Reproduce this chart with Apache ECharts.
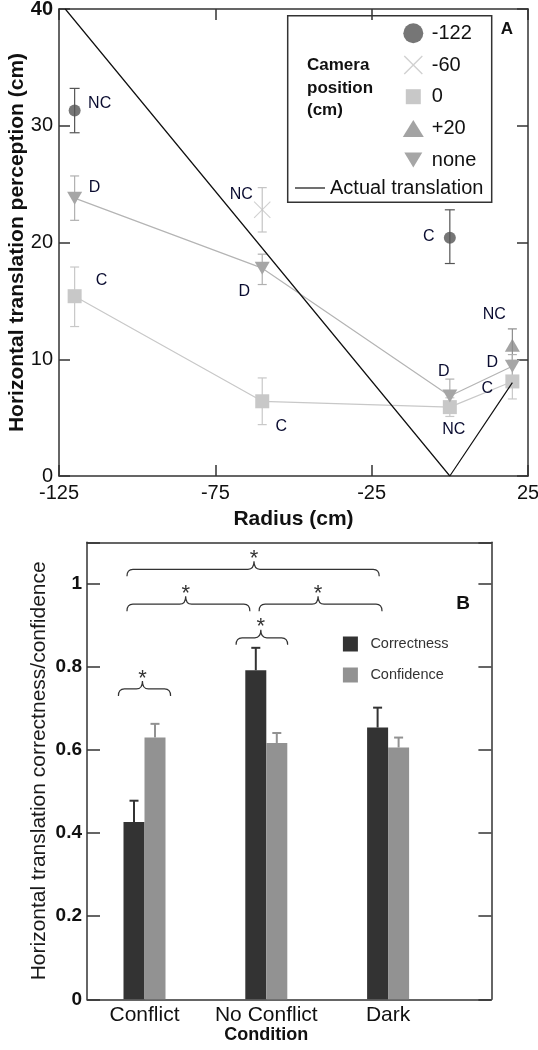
<!DOCTYPE html>
<html><head><meta charset="utf-8">
<script src="https://cdn.jsdelivr.net/npm/echarts@6/dist/echarts.min.js"></script>
<style>html,body{margin:0;padding:0;background:#fff}#c{width:538px;height:1050px}</style>
</head><body><div id="c"></div>
<script>
// ---------- Panel A data ----------
const radiusTicks = [-125, -75, -25, 25];
const cam122X = [-120, 0];
const cam122Y = [31.3, 20.4];
const cam122Lo = [29.4, 18.2];
const cam122Hi = [33.2, 22.8];
const cam122Tag = ['NC', 'C'];

const cam60X = [-60];
const cam60Y = [22.8];
const cam60Lo = [20.9];
const cam60Hi = [24.7];
const cam60Tag = ['NC'];

const cam0X = [-120, -60, 0, 20];
const cam0Y = [15.4, 6.4, 5.9, 8.1];
const cam0Lo = [12.8, 4.4, 5.1, 6.6];
const cam0Hi = [17.9, 8.4, 6.7, 9.6];
const cam0Tag = ['C', 'C', 'NC', 'C'];

const camP20X = [20];
const camP20Y = [11.2];
const camP20Lo = [9.9];
const camP20Hi = [12.6];
const camP20Tag = ['NC'];

const noneX = [-120, -60, 0, 20];
const noneY = [23.8, 17.8, 6.85, 9.4];
const noneLo = [21.9, 16.4, 5.4, 8.4];
const noneHi = [25.7, 19.0, 8.3, 10.4];
const noneTag = ['D', 'D', 'D', 'D'];

const actualX = [-123, 0, 20];
const actualY = [40, 0, 8];

// ---------- Panel B data ----------
const conditions = ['Conflict', 'No Conflict', 'Dark'];
const correctness = [0.427, 0.792, 0.654];
const correctnessSE = [0.051, 0.054, 0.048];
const confidence = [0.630, 0.617, 0.606];
const confidenceSE = [0.033, 0.024, 0.024];
// significance braces (category units relative to first category, y level)
const braceFrom = [-0.144, -0.144, 0.941, 0.752, -0.214];
const braceTo = [1.927, 0.865, 1.950, 1.175, 0.214];
const braceMid = [0.899, 0.338, 1.425, 0.955, -0.017];
const braceLevel = [1.035, 0.951, 0.951, 0.870, 0.747];

// ---------- styling ----------
const FONT = "'Liberation Sans', Arial, sans-serif";
const AX = { color: '#333', width: 1.5 };
const TAG_COLOR = '#0a0c30';

// label offsets (px) for point tags
const off122 = [[25, -7], [-21, -1]];
const off60 = [[-21, -15]];
const off0 = [[27, -16], [19, 25], [4, 22], [-25, 7]];
const offP20 = [[-18, -31]];
const offNone = [[20, -11], [-18, 23], [-6, -24], [-20, -4]];

function pts(xs, ys, tags, offs) {
  return xs.map((x, i) => ({
    value: [x, ys[i]],
    label: { show: true, formatter: tags[i], position: 'inside', offset: offs[i],
      fontSize: 16, color: TAG_COLOR, opacity: 1, fontFamily: FONT, textBorderWidth: 0, textBorderColor: 'transparent' }
  }));
}

function xShape(cx, cy, r, e) {
  const u = [[-1,-1+e],[-1+e,-1],[0,-e],[1-e,-1],[1,-1+e],[e,0],[1,1-e],[1-e,1],[0,e],[-1+e,1],[-1,1-e],[-e,0]];
  return u.map((p, i) => (i ? 'L' : 'M') + (cx + p[0]*r).toFixed(2) + ',' + (cy + p[1]*r).toFixed(2)).join(' ') + ' Z';
}
const PAD = b => 'path://M0,0 L0,0 ' + b + ' M27,20 L27,20';
const X_SYMBOL = 'path://' + xShape(1, 1, 1, 0.09);
const DOWN_SYMBOL = 'path://M0,0 L2,0 L1,1.75 Z';
const ICON_X = PAD(xShape(13.5, 10, 9.5, 0.1));
const ICON_SQ = PAD('M6,2.5 L21,2.5 L21,17.5 L6,17.5 Z');
const ICON_UP = PAD('M3,18.5 L13.5,1.5 L24,18.5 Z');
const ICON_DOWN = PAD('M4.5,2.5 L22.5,2.5 L13.5,17.5 Z');
const ICON_BAR = 'path://M0,0 L0,0 M7.5,0 L22.5,0 L22.5,15 L7.5,15 Z M30,15 L30,15';

function errRender(color, cap) {
  return function (params, api) {
    const x = api.value(0);
    const a = api.coord([x, api.value(1)]);
    const b = api.coord([x, api.value(2)]);
    const st = { stroke: color, lineWidth: 1.2 };
    return { type: 'group', children: [
      { type: 'line', shape: { x1: a[0], y1: a[1], x2: b[0], y2: b[1] }, style: st },
      { type: 'line', shape: { x1: a[0]-cap, y1: a[1], x2: a[0]+cap, y2: a[1] }, style: st },
      { type: 'line', shape: { x1: b[0]-cap, y1: b[1], x2: b[0]+cap, y2: b[1] }, style: st }
    ]};
  };
}
function errSeries(name, xs, lo, hi, color, cap) {
  return { name: name, type: 'custom', xAxisIndex: 0, yAxisIndex: 0, z: 2, silent: true,
    renderItem: errRender(color, cap), encode: { x: 0, y: [1, 2] },
    data: xs.map((x, i) => [x, lo[i], hi[i]]) };
}

const BAR_W = 21;
function barErrRender(offset, color) {
  return function (params, api) {
    const i = api.value(0);
    const a = api.coord([i, api.value(1)]);
    const b = api.coord([i, api.value(2)]);
    const x = a[0] + offset;
    const st = { stroke: color, lineWidth: 2 };
    return { type: 'group', children: [
      { type: 'line', shape: { x1: x, y1: a[1], x2: x, y2: b[1] }, style: st },
      { type: 'line', shape: { x1: x-4.5, y1: b[1], x2: x+4.5, y2: b[1] }, style: st }
    ]};
  };
}
function braceRender(params, api) {
  const base = api.coord([0, api.value(1)]);
  const band = api.size([1, 0])[0];
  const X = f => base[0] + f * band;
  const y = base[1];
  const x1 = X(api.value(2)), x2 = X(api.value(3)), xc = X(api.value(4));
  const dr = 7, up = 8, r = 6;
  const d = `M${x1},${y+dr} Q${x1},${y} ${x1+r},${y} L${xc-r},${y} Q${xc},${y} ${xc},${y-up} Q${xc},${y} ${xc+r},${y} L${x2-r},${y} Q${x2},${y} ${x2},${y+dr}`;
  return { type: 'group', children: [
    { type: 'path', shape: { pathData: d }, style: { fill: null, stroke: '#333', lineWidth: 1.2 } },
    { type: 'text', style: { text: '*', x: xc, y: y - up - 2.5, align: 'center', verticalAlign: 'middle',
      fontSize: 22, fill: '#333', fontFamily: FONT } }
  ]};
}

const frameAxis = (extra) => Object.assign({
  axisLine: { show: true, onZero: false, lineStyle: AX },
  splitLine: { show: false },
  nameMoveOverlap: false
}, extra);

const option = {
  animation: false,
  backgroundColor: '#fff',
  textStyle: { fontFamily: FONT },
  grid: [
    { left: 59, top: 9, width: 469, height: 467, outerBoundsMode: 'none' },
    { left: 87, top: 542.3, width: 404.4, height: 457, outerBoundsMode: 'none' },
    { left: 83.6, top: 542.3, width: 365.4, height: 457, outerBoundsMode: 'none' }
  ],
  xAxis: [
    frameAxis({ gridIndex: 0, type: 'value', min: radiusTicks[0], max: radiusTicks[radiusTicks.length-1], interval: 50, position: 'bottom',
      axisTick: { show: true, inside: true, length: 11, lineStyle: AX },
      axisLabel: { fontSize: 20, color: '#111', margin: 7, fontFamily: FONT },
      name: 'Radius (cm)', nameLocation: 'middle', nameGap: 33,
      nameTextStyle: { fontSize: 21, fontWeight: 'bold', color: '#111', fontFamily: FONT } }),
    frameAxis({ gridIndex: 0, type: 'value', min: radiusTicks[0], max: radiusTicks[radiusTicks.length-1], interval: 50, position: 'top',
      axisTick: { show: true, inside: true, length: 11, lineStyle: AX }, axisLabel: { show: false } }),
    frameAxis({ gridIndex: 1, type: 'value', min: 0, max: 1, position: 'bottom', axisTick: { show: false }, axisLabel: { show: false } }),
    frameAxis({ gridIndex: 1, type: 'value', min: 0, max: 1, position: 'top', axisTick: { show: false }, axisLabel: { show: false } }),
    { gridIndex: 2, type: 'category', data: conditions, axisLine: { show: false }, axisTick: { show: false },
      nameMoveOverlap: false,
      axisLabel: { interval: 0, fontSize: 21, color: '#111', margin: 5, fontFamily: FONT },
      name: 'Condition', nameLocation: 'middle', nameGap: 27,
      nameTextStyle: { fontSize: 18, fontWeight: 'bold', color: '#111', fontFamily: FONT } }
  ],
  yAxis: [
    frameAxis({ gridIndex: 0, type: 'value', min: 0, max: 40, interval: 10, position: 'left',
      axisTick: { show: true, inside: true, length: 11, lineStyle: AX },
      axisLabel: { fontSize: 20, color: '#111', margin: 6, fontFamily: FONT,
        formatter: v => v === 40 ? '{b|40}' : String(v),
        rich: { b: { fontSize: 20, fontWeight: 'bold', color: '#111', fontFamily: FONT } } },
      name: 'Horizontal translation perception (cm)', nameLocation: 'middle', nameGap: 31,
      nameTextStyle: { fontSize: 21, fontWeight: 'bold', color: '#111', fontFamily: FONT } }),
    frameAxis({ gridIndex: 0, type: 'value', min: 0, max: 40, interval: 10, position: 'right',
      axisTick: { show: true, inside: true, length: 11, lineStyle: AX }, axisLabel: { show: false } }),
    frameAxis({ gridIndex: 1, type: 'value', min: 0, max: 1.1, interval: 0.2, position: 'left',
      axisTick: { show: true, inside: true, length: 13, lineStyle: AX },
      axisLabel: { fontSize: 19, fontWeight: 'bold', color: '#111', margin: 5, fontFamily: FONT,
        formatter: v => v > 1.05 ? '' : String(Number(v.toFixed(1))) },
      name: 'Horizontal translation correctness/confidence', nameLocation: 'middle', nameGap: 37,
      nameTextStyle: { fontSize: 21, color: '#1a1a1a', fontFamily: FONT } }),
    frameAxis({ gridIndex: 1, type: 'value', min: 0, max: 1.1, interval: 0.2, position: 'right',
      axisTick: { show: true, inside: true, length: 13, lineStyle: AX }, axisLabel: { show: false } }),
    { gridIndex: 2, type: 'value', min: 0, max: 1.1, show: false }
  ],
  legend: [
    { orient: 'vertical', left: 399.8, top: 23.3, padding: 0, itemWidth: 27, itemHeight: 20, itemGap: 11.7,
      selectedMode: false, itemStyle: { borderWidth: 0 },
      textStyle: { fontSize: 20, color: '#111', fontFamily: FONT },
      data: [ { name: '-122', icon: 'circle' }, { name: '-60', icon: ICON_X }, { name: '0', icon: ICON_SQ },
              { name: '+20', icon: ICON_UP }, { name: 'none', icon: ICON_DOWN } ] },
    { orient: 'vertical', left: 295, top: 178, padding: 0, itemWidth: 30, itemHeight: 20,
      selectedMode: false, itemStyle: { borderWidth: 0 }, textStyle: { fontSize: 20, color: '#111', fontFamily: FONT },
      data: [ { name: 'Actual translation', icon: 'path://M0,0 L0,0 M0,9.4 L30,9.4 L30,10.6 L0,10.6 Z M30,20 L30,20' } ] },
    { orient: 'vertical', left: 335.4, top: 636.5, padding: 0, itemWidth: 30, itemHeight: 15, itemGap: 16,
      selectedMode: false, itemStyle: { borderWidth: 0 },
      textStyle: { fontSize: 14.5, color: '#333', fontFamily: FONT },
      data: [ { name: 'Correctness', icon: ICON_BAR }, { name: 'Confidence', icon: ICON_BAR } ] }
  ],
  graphic: [
    { type: 'rect', shape: { x: 287.7, y: 15.7, width: 204, height: 186.6 }, style: { fill: 'none', stroke: '#333', lineWidth: 1.5 }, z: 10 },
    { type: 'text', x: 307, y: 54.5, style: { text: 'Camera\nposition\n(cm)', fontSize: 17, fontWeight: 'bold', lineHeight: 22.5, fill: '#111', fontFamily: FONT }, z: 10 },
    { type: 'text', x: 507, y: 29, style: { text: 'A', fontSize: 17, fontWeight: 'bold', fill: '#111', align: 'center', verticalAlign: 'middle', fontFamily: FONT }, z: 10 },
    { type: 'text', x: 463, y: 603.3, style: { text: 'B', fontSize: 19, fontWeight: 'bold', fill: '#111', align: 'center', verticalAlign: 'middle', fontFamily: FONT }, z: 10 }
  ],
  series: [
    { name: 'Actual translation', type: 'line', xAxisIndex: 0, yAxisIndex: 0, z: 6, silent: true,
      data: actualX.map((x, i) => [x, actualY[i]]), symbol: 'none',
      lineStyle: { color: '#111', width: 1.2 }, itemStyle: { color: '#111' } },
    errSeries('e122', cam122X, cam122Lo, cam122Hi, '#555', 5),
    errSeries('e60', cam60X, cam60Lo, cam60Hi, '#c4c4c4', 4.5),
    errSeries('e0', cam0X, cam0Lo, cam0Hi, '#c8c8c8', 4.5),
    errSeries('eP20', camP20X, camP20Lo, camP20Hi, '#8c8c8c', 4.5),
    errSeries('eNone', noneX, noneLo, noneHi, '#b0b0b0', 4.5),
    { name: '0', type: 'line', xAxisIndex: 0, yAxisIndex: 0, z: 4,
      data: pts(cam0X, cam0Y, cam0Tag, off0), symbol: 'rect', symbolSize: 14, showSymbol: true,
      lineStyle: { color: '#c8c8c8', width: 1.2 }, itemStyle: { color: '#c8c8c8', borderWidth: 0 } },
    { name: 'none', type: 'line', xAxisIndex: 0, yAxisIndex: 0, z: 5,
      data: pts(noneX, noneY, noneTag, offNone), symbol: DOWN_SYMBOL, symbolSize: [15, 13], showSymbol: true,
      lineStyle: { color: '#b4b4b4', width: 1.2 }, itemStyle: { color: '#a6a6a6', borderWidth: 0 } },
    { name: '-122', type: 'scatter', xAxisIndex: 0, yAxisIndex: 0, z: 7,
      data: pts(cam122X, cam122Y, cam122Tag, off122), symbol: 'circle', symbolSize: 12,
      itemStyle: { color: '#545454' } },
    { name: '-60', type: 'scatter', xAxisIndex: 0, yAxisIndex: 0, z: 7,
      data: pts(cam60X, cam60Y, cam60Tag, off60), symbol: X_SYMBOL, symbolSize: 17,
      itemStyle: { color: '#c4c4c4' } },
    { name: '+20', type: 'scatter', xAxisIndex: 0, yAxisIndex: 0, z: 7,
      data: pts(camP20X, camP20Y, camP20Tag, offP20), symbol: 'triangle', symbolSize: [15, 13],
      itemStyle: { color: '#8c8c8c' } },

    { name: 'Correctness', type: 'bar', xAxisIndex: 4, yAxisIndex: 4, data: correctness,
      barWidth: BAR_W, barGap: '0%', itemStyle: { color: '#333333' }, z: 2 },
    { name: 'Confidence', type: 'bar', xAxisIndex: 4, yAxisIndex: 4, data: confidence,
      barWidth: BAR_W, barGap: '0%', itemStyle: { color: '#929292' }, z: 2 },
    { name: 'corrErr', type: 'custom', xAxisIndex: 4, yAxisIndex: 4, z: 3, silent: true,
      renderItem: barErrRender(-BAR_W / 2, '#333333'), encode: { x: 0, y: [1, 2] },
      data: conditions.map((c, i) => [i, correctness[i], correctness[i] + correctnessSE[i]]) },
    { name: 'confErr', type: 'custom', xAxisIndex: 4, yAxisIndex: 4, z: 3, silent: true,
      renderItem: barErrRender(BAR_W / 2, '#929292'), encode: { x: 0, y: [1, 2] },
      data: conditions.map((c, i) => [i, confidence[i], confidence[i] + confidenceSE[i]]) },
    { name: 'braces', type: 'custom', xAxisIndex: 4, yAxisIndex: 4, z: 3, silent: true,
      renderItem: braceRender, encode: { x: 0, y: 1 },
      data: braceFrom.map((f, i) => [0, braceLevel[i], f, braceTo[i], braceMid[i]]) }
  ]
};

const chart = echarts.init(document.getElementById('c'));
chart.setOption(option);
</script>
</body></html>
